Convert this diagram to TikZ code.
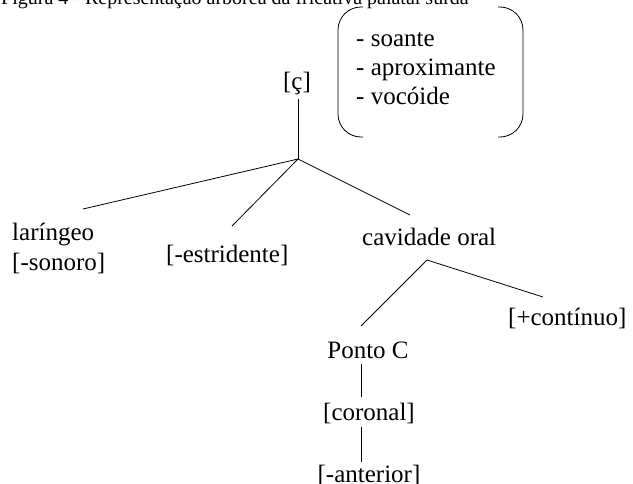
\documentclass[tikz,border=0pt]{standalone}
\usepackage{fontspec}
\setmainfont{Liberation Serif}
\begin{document}
\begin{tikzpicture}[x=1pt,y=-1pt,
  lbl/.style={inner sep=0pt,anchor=base,font=\fontsize{25}{30}\selectfont},
  caption/.style={inner sep=0pt,anchor=base west,font=\fontsize{20}{24}\selectfont},
  branch/.style={line width=0.8pt},
  bracket/.style={line width=0.8pt,rounded corners=23pt}]
\useasboundingbox (0,0) rectangle (633,483);
\clip (0,0) rectangle (633,483);

% caption line (partly outside the page)
\node[caption] (cap) at (1,4) {Figura 4 - Representação arbórea da fricativa palatal surda};

% feature list between round brackets
\draw[bracket] (363,7) -- (338,7) -- (338,137) -- (363,137);
\draw[bracket] (498,7) -- (523,7) -- (523,137) -- (498,137);
\node[lbl,anchor=base west] (f1) at (356,46) {- soante};
\node[lbl,anchor=base west] (f2) at (356,75) {- aproximante};
\node[lbl,anchor=base west] (f3) at (356,104) {- vocóide};

% nodes of the tree
\node[lbl] (root) at (297,89) {[ç]};
\node[lbl,anchor=base west] (lar) at (12,240) {laríngeo};
\node[lbl,anchor=base west] (son) at (12,270) {[-sonoro]};
\node[lbl,anchor=base west] (estr) at (166,262) {[-estridente]};
\node[lbl,anchor=base west] (cav) at (362,245) {cavidade oral};
\node[lbl,anchor=base west] (cont) at (508,325) {[+contínuo]};
\node[lbl] (ponto) at (368,358) {Ponto C};
\node[lbl] (cor) at (369,420) {[coronal]};
\node[lbl] (ant) at (369,482) {[-anterior]};

% branching points and attachment points
\coordinate (rootJ) at (298,159);
\coordinate (rootUp) at (298,99);
\coordinate (larUp) at (83,209);
\coordinate (estrUp) at (232,226);
\coordinate (cavUp) at (410,215);
\coordinate (cavJ) at (427,260);
\coordinate (contUp) at (543,297);
\coordinate (pontoUp) at (361,326);
\coordinate (pontoDn) at (361,364);
\coordinate (corUp) at (361,397);
\coordinate (corDn) at (361,427);
\coordinate (antUp) at (361,462);

\draw[branch] (rootUp) -- (rootJ);
\draw[branch] (rootJ) -- (larUp);
\draw[branch] (rootJ) -- (estrUp);
\draw[branch] (rootJ) -- (cavUp);
\draw[branch] (cavJ) -- (contUp);
\draw[branch] (cavJ) -- (pontoUp);
\draw[branch] (pontoDn) -- (corUp);
\draw[branch] (corDn) -- (antUp);
\end{tikzpicture}
\end{document}
